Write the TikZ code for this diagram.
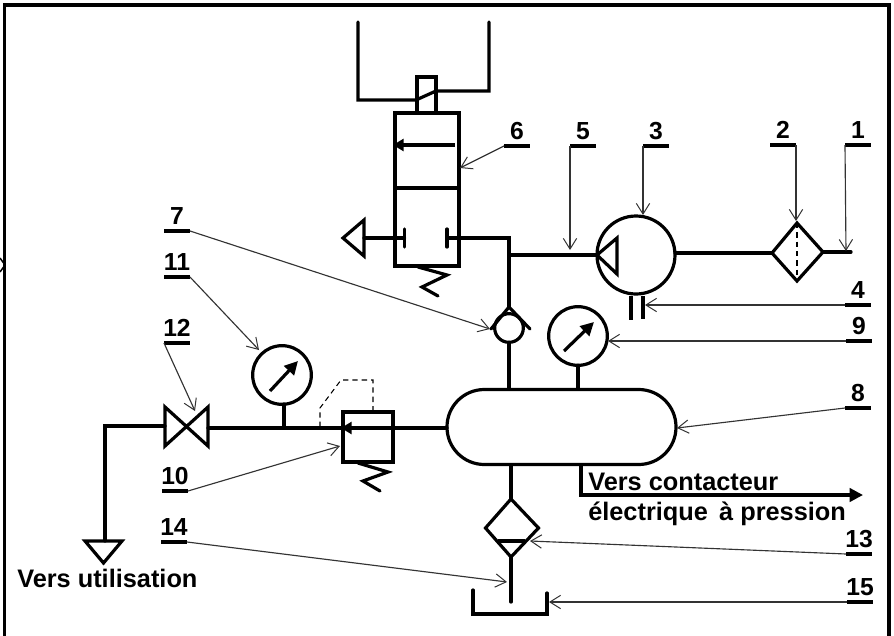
\documentclass[tikz,border=0pt]{standalone}
\usepackage{fontspec}
\setmainfont{Liberation Sans}
\usetikzlibrary{arrows.meta}
\tikzset{
 pipe/.style={line width=2.4pt,line cap=round,line join=miter},
 comp/.style={draw,line width=2.4pt,inner sep=0pt,outer sep=0pt,fill=none},
 lead/.style={line width=0.85pt,draw=black!80,-{Straight Barb[length=8pt,width=10pt,line width=0.75pt]}},
 barn/.style={fill=black,inner sep=0pt,outer sep=0pt,minimum width=19.5pt,minimum height=3pt},
 num/.style={font=\bfseries\fontsize{18.5}{20}\selectfont,inner sep=0pt,anchor=base},
 lab/.style={font=\bfseries\fontsize{19}{21}\selectfont,inner sep=0pt,anchor=base west},
 dashl/.style={line width=0.8pt,dash pattern=on 4pt off 3pt},
 gaugearrow/.style={line width=2.4pt,-{Triangle[length=10pt,width=10pt]}},
 valvearrow/.style={line width=2.4pt,-{Triangle[length=8pt,width=9pt]}},
}
\newcommand{\numbar}[4]{%
 \node[barn] (b#1) at (#3,#4) {};
 \node[num] (n#1) at (#3,#4-7) {#2};}
\begin{document}
\begin{tikzpicture}[x=0.75pt,y=-0.75pt]
\useasboundingbox (0,0) rectangle (894,636);
\fill[white] (0,0) rectangle (894,636);
% frame (no lower side)
\coordinate (fbl) at (4.5,636);
\coordinate (ftl) at (4.5,5);
\coordinate (ftr) at (889,5);
\coordinate (fbr) at (889,636);
\draw[line width=2.4pt,line join=miter] (fbl) -- (ftl) -- (ftr) -- (fbr);
\coordinate (ma) at (0,258);
\coordinate (mb) at (5,265);
\coordinate (mc) at (0,272);
\draw[line width=1.1pt] (ma) -- (mb) -- (mc);

% number bars
\numbar{1}{1}{858}{145}
\numbar{2}{2}{783}{145}
\numbar{3}{3}{656}{146}
\numbar{4}{4}{858}{305}
\numbar{5}{5}{583}{146}
\numbar{6}{6}{517}{146}
\numbar{7}{7}{177}{231}
\numbar{8}{8}{858}{408}
\numbar{9}{9}{859}{341}
\numbar{10}{10}{175}{491}
\numbar{11}{11}{177}{277}
\numbar{12}{12}{177}{343}
\numbar{13}{13}{859}{554}
\numbar{14}{14}{174}{542}
\numbar{15}{15}{860}{602}

% directional valve 6
\node[comp,minimum width=48pt,minimum height=114.75pt] (v6) at (427,189.5) {};
\coordinate (v6dl) at (395,188);
\coordinate (v6dr) at (459,188);
\draw[pipe] (v6dl) -- (v6dr);
\coordinate (v6ar) at (455,145);
\coordinate (v6al) at (393,145);
\draw[valvearrow] (v6ar) -- (v6al);
\node[comp,minimum width=14.25pt,minimum height=27pt] (sol) at (426.5,95) {};
\coordinate (wl0) at (358,22);
\coordinate (wl1) at (358,100);
\coordinate (wl2) at (416,100);
\coordinate (wr0) at (489,22);
\coordinate (wr1) at (489,91);
\coordinate (wr2) at (436,91);
\draw[pipe] (wl0) -- (wl1) -- (wl2) -- (wr2) -- (wr1) -- (wr0) ;
% exhaust
\coordinate (ex1) at (343,238);
\coordinate (ex2) at (364,220);
\coordinate (ex3) at (364,256);
\draw[pipe,line join=miter] (ex1) -- (ex2) -- (ex3) -- cycle;
\coordinate (tl) at (404.5,238);
\coordinate (tl1) at (404.5,229);
\coordinate (tl2) at (404.5,247);
\coordinate (tr) at (447,238);
\coordinate (tr1) at (447,229);
\coordinate (tr2) at (447,247);
\draw[pipe] (tl1) -- (tl2);
\draw[pipe] (tr1) -- (tr2);
\coordinate (exm) at (364,238);
\draw[pipe] (exm) -- (tl);
\coordinate (j1) at (509,238);
\coordinate (j2) at (509,255);
\draw[pipe] (tr) -- (j1) -- (j2);
% spring 6
\coordinate (s1) at (418,267);
\coordinate (s2) at (447,275);
\coordinate (s3) at (422,287);
\coordinate (s4) at (438,296);
\draw[pipe] (s1) -- (s2) -- (s3) -- (s4);

% compressor 3
\node[comp,circle,minimum size=58.5pt] (c3) at (636,255) {};
\coordinate (c1) at (597,255);
\coordinate (c2) at (617,238);
\coordinate (c4) at (617,274);
\draw[pipe] (c1) -- (c2) -- (c4) -- cycle;
\draw[pipe] (j2) -- (c1);
\coordinate (p1a) at (630.5,296);
\coordinate (p1b) at (630.5,320);
\coordinate (p2a) at (643,296);
\coordinate (p2b) at (643,319);
\draw[line width=3pt] (p1a) -- (p1b);
\draw[line width=3pt] (p2a) -- (p2b);
% filter 2
\coordinate (dl) at (772,253);
\coordinate (dr) at (823,252);
\coordinate (dt) at (797,223);
\coordinate (db) at (797,281);
\draw[pipe] (dl) -- (dt) -- (dr) -- (db) -- cycle;
\draw[dashl] (dt) -- (db);
\coordinate (c3e) at (675,253);
\draw[pipe] (c3e) -- (dl);
\coordinate (inl) at (851,252);
\draw[pipe] (dr) -- (inl);

% check valve 7
\node[comp,circle,minimum size=21.5pt] (cv) at (509,328) {};
\coordinate (cva) at (509,307);
\coordinate (cvl) at (491,329);
\coordinate (cvr) at (530,329);
\draw[pipe] (cvl) -- (cva) -- (cvr);
\draw[pipe] (j2) -- (cva);

% gauge 9
\node[comp,circle,minimum size=44pt] (g9) at (578,336) {};
\coordinate (g9a) at (564,351);
\coordinate (g9b) at (594,322);
\draw[gaugearrow] (g9a) -- (g9b);

% tank 8
\node[comp,rounded corners=28pt,minimum width=171.75pt,minimum height=56.25pt] (t8) at (561.5,427) {};
\coordinate (t1a) at (509,389);
\coordinate (g9s) at (578,389);
\draw[pipe] (cv.south) -- (t1a);
\draw[pipe] (g9.south) -- (g9s);

% gauge 11
\node[comp,circle,minimum size=44pt] (g11) at (282,375) {};
\coordinate (g11a) at (270,391);
\coordinate (g11b) at (298,361);
\draw[gaugearrow] (g11a) -- (g11b);
\coordinate (g11s) at (284,427);
\coordinate (g11t) at (284,404);
\draw[pipe] (g11t) -- (g11s);

% regulator 10
\node[comp,minimum width=37.5pt,minimum height=37.5pt] (r10) at (368,437) {};
\coordinate (r10a) at (341,428);
\coordinate (v12r) at (208,428);
\coordinate (tl8) at (447,428);
\draw[pipe] (tl8) -- (v12r);
\coordinate (r10b) at (360,428);
\draw[valvearrow] (r10b) -- (r10a);
\coordinate (r1) at (358,463);
\coordinate (r2) at (388,472);
\coordinate (r3) at (363,481);
\coordinate (r4) at (380,491);
\draw[pipe] (r1) -- (r2) -- (r3) -- (r4);
\coordinate (da) at (320,427);
\coordinate (db1) at (320,408);
\coordinate (dc) at (341,380);
\coordinate (dd) at (373,380);
\coordinate (de) at (373,412);
\draw[dashl] (da) -- (db1) -- (dc) -- (dd) -- (de);

% valve 12
\coordinate (vtl) at (165,407);
\coordinate (vbl) at (165,446);
\coordinate (vtr) at (208,407);
\coordinate (vbr) at (208,446);
\draw[pipe,line join=miter] (vtl) -- (vbr) -- (vtr) -- (vbl) -- cycle;
\coordinate (w12) at (165,426);
\coordinate (w13) at (105,426);
\coordinate (w14) at (105,541);
\draw[pipe] (w12) -- (w13) -- (w14);
\coordinate (ta) at (85,541);
\coordinate (tb) at (122,541);
\coordinate (tc) at (103.5,563);
\draw[pipe] (ta) -- (tb) -- (tc) -- cycle;

% filter 13 and tray 15
\coordinate (ft) at (511,499);
\coordinate (fl) at (485.5,528);
\coordinate (fr) at (538.5,528);
\coordinate (fb) at (511,557);
\draw[pipe] (ft) -- (fl) -- (fb) -- (fr) -- cycle;
\coordinate (fh1) at (498,541);
\coordinate (fh2) at (525,541);
\draw[line width=2.4pt] (fh1) -- (fh2);
\coordinate (tk1) at (511,465);
\coordinate (dr1) at (511,602);
\draw[pipe] (tk1) -- (ft);
\draw[pipe] (fb) -- (dr1);
\coordinate (y1) at (473,590);
\coordinate (y2) at (473,614);
\coordinate (y3) at (547,614);
\coordinate (y4) at (547,593);
\draw[pipe] (y1) -- (y2) -- (y3) -- (y4);

% pressure switch branch
\coordinate (q1) at (581,465);
\coordinate (q2) at (581,495);
\coordinate (q3) at (863,495);
\draw[pipe,-{Triangle[length=10pt,width=10pt]}] (q1) -- (q2) -- (q3);

% texts
\node[lab] (tx1) at (588,490) {Vers contacteur};
\node[lab] (tx2) at (588,520) {électrique\, à pression};
\node[lab] (tx3) at (17,587) {Vers utilisation};

% leaders
\coordinate (a1) at (846,251);
\coordinate (a2) at (796,221);
\coordinate (a3) at (643,215);
\coordinate (a4) at (645,305);
\coordinate (a5) at (570,250);
\coordinate (a6) at (460,168);
\coordinate (a7) at (490,329);
\coordinate (a8) at (677,428);
\coordinate (a9) at (608,341);
\coordinate (a10) at (340,446);
\coordinate (a11) at (259,350);
\coordinate (a12) at (195,411);
\coordinate (a13) at (530,541);
\coordinate (a14) at (507,582);
\coordinate (a15) at (549,602);
\draw[lead] (b1.west) -- (a1);
\draw[lead] (b2.east) -- (a2);
\draw[lead] (b3.west) -- (a3);
\draw[lead] (b4.west) -- (a4);
\draw[lead] (b5.west) -- (a5);
\draw[lead] (b6.west) -- (a6);
\draw[lead] (b7.east) -- (a7);
\draw[lead] (b8.west) -- (a8);
\draw[lead] (b9.west) -- (a9);
\draw[lead] (b10.east) -- (a10);
\draw[lead] (b11.east) -- (a11);
\draw[lead] (b12.west) -- (a12);
\draw[lead] (b13.west) -- (a13);
\draw[lead] (b14.east) -- (a14);
\draw[lead] (b15.west) -- (a15);
\end{tikzpicture}
\end{document}
